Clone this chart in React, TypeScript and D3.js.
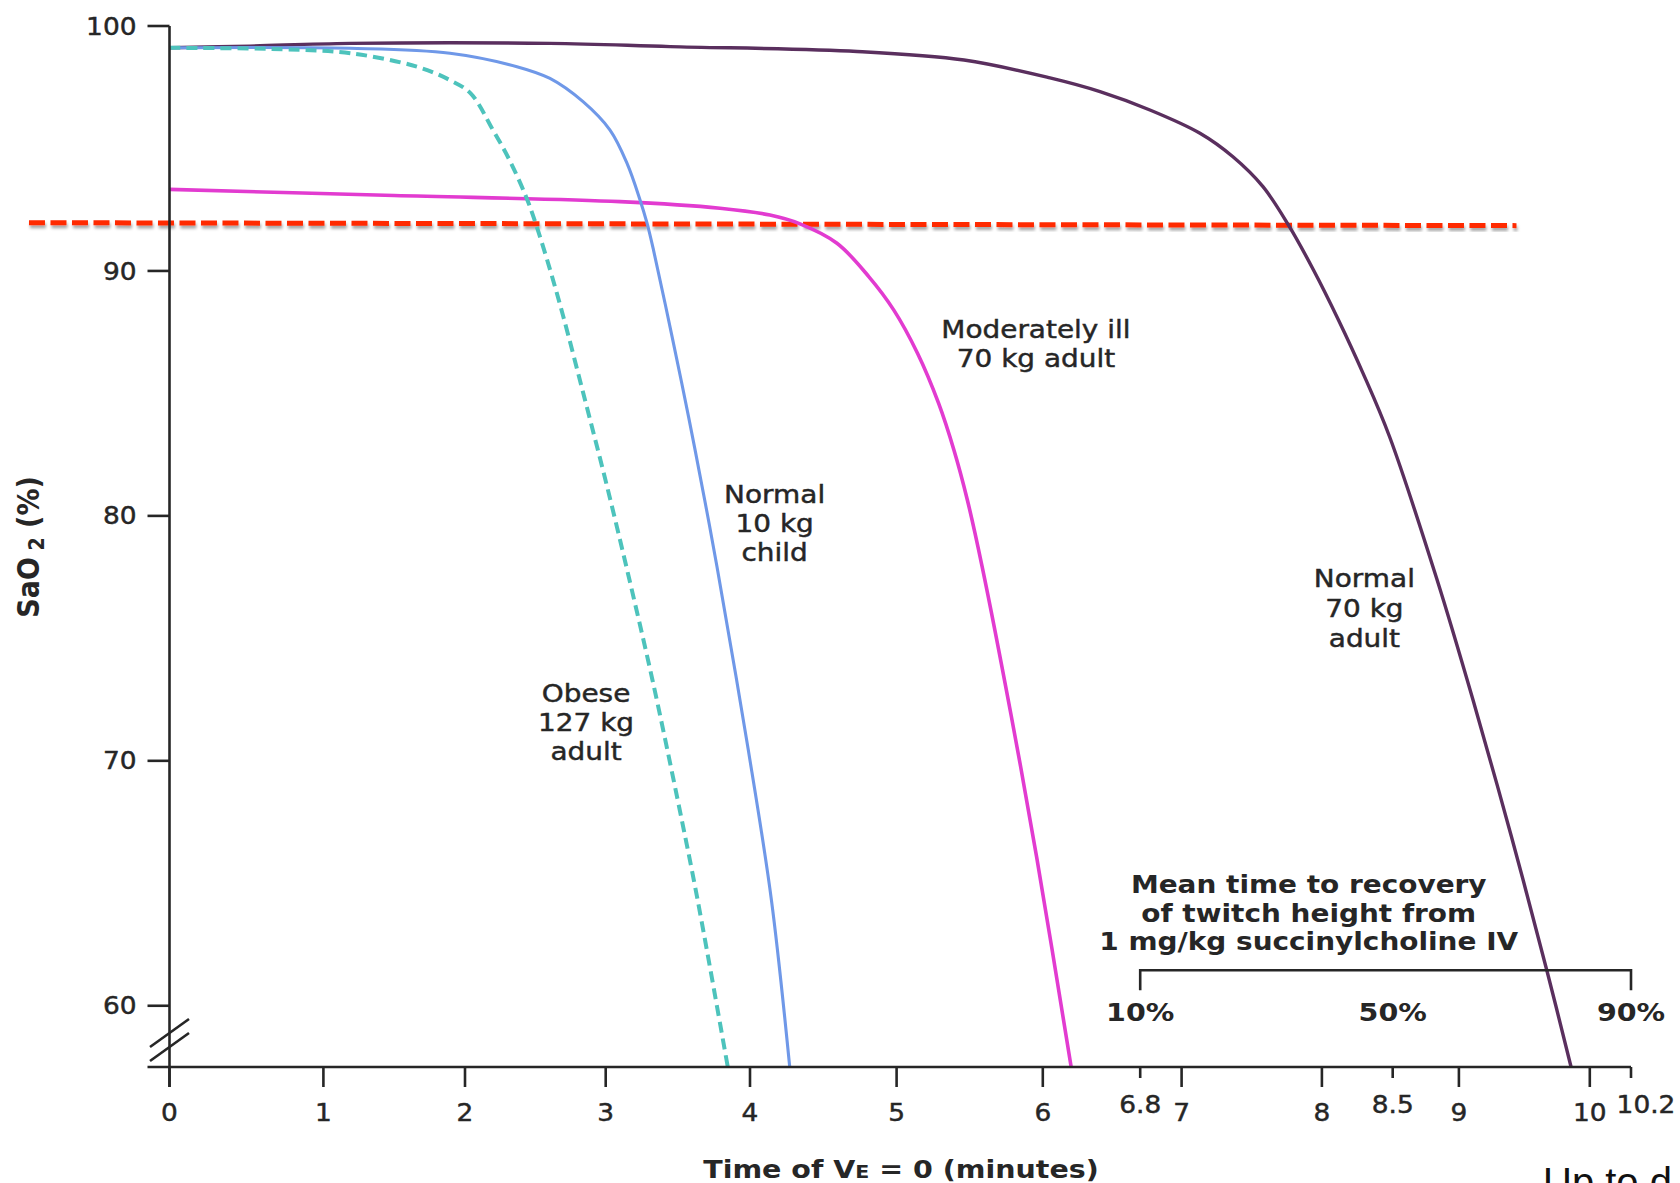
import React from "react";
import * as d3 from "d3";

// ---------- data ----------
// Minutes of apnoea (VE = 0) against arterial saturation (%).
const normalAdultT = [0, 0.52, 1.188, 2.604, 3.446, 4.73, 5.461, 6.059, 6.47, 6.847, 7.131, 7.366, 7.58, 7.761, 7.94, 8.117, 8.29, 8.478, 8.831, 9.108, 9.4, 9.673, 9.857];
const normalAdultSat = [99.11, 99.18, 99.29, 99.29, 99.16, 98.96, 98.61, 97.88, 97.32, 96.57, 95.62, 94.66, 93.44, 91.88, 90.04, 88.0, 85.83, 83.23, 77.46, 72.48, 66.93, 61.42, 57.5];

const illAdultT = [0, 1.499, 3.099, 3.792, 4.136, 4.341, 4.593, 4.81, 4.98, 5.143, 5.287, 5.392, 5.484, 5.585, 5.783, 5.958, 6.233];
const illAdultSat = [93.33, 93.08, 92.83, 92.56, 92.28, 91.92, 91.13, 89.77, 88.41, 86.64, 84.6, 82.69, 80.65, 77.93, 71.87, 66.07, 57.5];

const childT = [0, 1.188, 1.894, 2.369, 2.604, 2.839, 3.03, 3.148, 3.238, 3.286, 3.331, 3.46, 3.574, 3.686, 3.771, 3.988, 4.146, 4.271];
const childSat = [99.11, 99.09, 98.89, 98.34, 97.86, 96.91, 95.75, 94.39, 92.9, 91.96, 90.86, 87.32, 84.05, 80.65, 77.93, 70.45, 64.32, 57.5];

const obeseT = [0, 0.735, 1.19, 1.66, 1.89, 2.04, 2.199, 2.316, 2.434, 2.502, 2.605, 2.699, 2.853, 3.007, 3.165, 3.324, 3.499, 3.637, 3.846];
const obeseSat = [99.11, 99.05, 98.89, 98.34, 97.8, 97.25, 95.75, 94.53, 93.03, 91.95, 90.04, 88.13, 84.73, 81.26, 77.38, 73.3, 68.4, 64.32, 57.5];

// Desaturation threshold (dashed red)
const thresholdT = [-0.913, 9.44];
const thresholdSat = [91.97, 91.85];

// Axis ticks
const majorTicks = [0, 1, 2, 3, 4, 5, 6, 7, 8, 9, 10];
const minorTicks = [6.8, 8.5, 10.2];
const minorTickLabels = ["6.8", "8.5", "10.2"];
const satTicks = [60, 70, 80, 90, 100];

// Succinylcholine recovery bracket
const recoveryTimes = [6.8, 8.5, 10.2];
const recoveryLabels = ["10%", "50%", "90%"];
const recoveryNote = ["Mean time to recovery", "of twitch height from", "1 mg/kg succinylcholine IV"];

// Curve captions: text lines with their anchor (minutes, SaO2 of first baseline)
const captionLines = [
  ["Obese", "127 kg", "adult"],
  ["Normal", "10 kg", "child"],
  ["Moderately ill", "70 kg adult"],
  ["Normal", "70 kg", "adult"],
];
const captionT = [2.86, 4.168, 5.953, 8.3];
const captionSat = [72.4, 80.54, 87.26, 77.08];

// ---------- layout ----------
const W = 1680;
const H = 1183;
// The time axis is hand-spaced in this figure, so the scale is piecewise linear.
const timeBreaks = [0, 1, 2, 3, 4, 5, 6, 6.8, 7, 8, 8.5, 9, 10, 10.2];
const timeBreakPx = [169.5, 323.4, 465, 605.7, 750, 896.6, 1042.8, 1140.2, 1181.6, 1321.9, 1392.7, 1458.9, 1589.8, 1631];
const SAT_TOP = 100;
const SAT_AXIS = 57.5;
const FONT = "'DejaVu Sans', Verdana, sans-serif";
const STRETCH = 1.14;
const INK = "#262626";

const seriesStyle = [
  { color: "#5a2f5e", width: 3.4, dash: undefined as string | undefined },
  { color: "#e23bd0", width: 3.6, dash: undefined },
  { color: "#6f98e8", width: 3.1, dash: undefined },
  { color: "#4dc3bc", width: 4, dash: "11 6" },
];

type TextProps = {
  x: number;
  y: number;
  size: number;
  anchor?: "start" | "middle" | "end";
  weight?: string;
  sx?: number;
  fill?: string;
  children: React.ReactNode;
};

function WideText({ x, y, size, anchor = "middle", weight = "normal", sx = STRETCH, fill = INK, children }: TextProps) {
  return (
    <text
      transform={`translate(${x},${y}) scale(${sx},1)`}
      textAnchor={anchor}
      fontFamily={FONT}
      fontSize={size}
      fontWeight={weight}
      fill={fill}
      stroke={weight === "normal" ? fill : "none"}
      strokeWidth={0.45}
    >
      {children}
    </text>
  );
}

export default function App() {
  const x = d3.scaleLinear().domain(timeBreaks).range(timeBreakPx);
  const y = d3.scaleLinear().domain([SAT_TOP, SAT_AXIS]).range([26, 1067]);

  const line = d3
    .line<[number, number]>()
    .x((d) => x(d[0]))
    .y((d) => y(d[1]))
    .curve(d3.curveCatmullRom.alpha(0.5));

  const straight = d3
    .line<[number, number]>()
    .x((d) => x(d[0]))
    .y((d) => y(d[1]));

  const series = [
    { t: normalAdultT, s: normalAdultSat },
    { t: illAdultT, s: illAdultSat },
    { t: childT, s: childSat },
    { t: obeseT, s: obeseSat },
  ].map((d, i) => ({ ...d, ...seriesStyle[i] }));

  const x0 = x(0);
  const yAxis = y(SAT_AXIS);
  const yTop = y(SAT_TOP);
  const bracketY = y(61.45);
  const breakY = y(58.6);

  return (
    <svg
      width={W}
      height={H}
      viewBox={`0 0 ${W} ${H}`}
      style={{ position: "absolute", left: 0, top: 0, background: "#fff" }}
    >
      <defs>
        <filter id="dropShade" x="-5%" y="-200%" width="110%" height="500%">
          <feDropShadow dx="1" dy="3" stdDeviation="1.6" floodColor="#000" floodOpacity="0.35" />
        </filter>
      </defs>
      <rect width={W} height={H} fill="#fff" />

      {/* threshold */}
      <path
        d={straight(d3.zip(thresholdT, thresholdSat) as [number, number][]) || ""}
        fill="none"
        stroke="#ff2a00"
        strokeWidth={5}
        strokeDasharray="16 5.5"
        filter="url(#dropShade)"
      />

      {/* saturation curves */}
      {series.map((d, i) => (
        <path
          key={i}
          d={line(d3.zip(d.t, d.s) as [number, number][]) || ""}
          fill="none"
          stroke={d.color}
          strokeWidth={d.width}
          strokeDasharray={d.dash}
          strokeLinejoin="round"
        />
      ))}

      {/* y axis */}
      <g stroke={INK} strokeWidth={2.6} fill="none">
        <line x1={x0} x2={x0} y1={yTop} y2={yAxis + 20} />
        {satTicks.map((v) => (
          <line key={v} x1={x0 - 22} x2={x0} y1={y(v)} y2={y(v)} />
        ))}
        {/* axis break */}
        <line x1={x0 - 19.5} y1={breakY + 7} x2={x0 + 19.5} y2={breakY - 21} />
        <line x1={x0 - 19.5} y1={breakY + 21} x2={x0 + 19.5} y2={breakY - 7} />
      </g>
      {satTicks.map((v) => (
        <WideText key={v} x={x0 - 33} y={y(v) + 8.6} size={24} anchor="end" sx={1.1}>
          {v}
        </WideText>
      ))}

      {/* x axis */}
      <g stroke={INK} strokeWidth={2.6} fill="none">
        <line x1={x0 - 22} x2={x(10.2)} y1={yAxis} y2={yAxis} />
        {majorTicks.map((v) => (
          <line key={v} x1={x(v)} x2={x(v)} y1={yAxis} y2={yAxis + 20} />
        ))}
        {minorTicks.map((v) => (
          <line key={v} x1={x(v)} x2={x(v)} y1={yAxis} y2={yAxis + 11} />
        ))}
      </g>
      {majorTicks.map((v) => (
        <WideText key={v} x={x(v)} y={yAxis + 54} size={24} sx={1.1}>
          {v}
        </WideText>
      ))}
      {minorTicks.map((v, i) => (
        <WideText key={v} x={x(v) + (i === minorTicks.length - 1 ? 15 : 0)} y={yAxis + 46} size={24} sx={1.1}>
          {minorTickLabels[i]}
        </WideText>
      ))}

      {/* axis titles */}
      <text
        transform={`translate(${39},${y(78.73)}) rotate(-90) scale(1,${STRETCH})`}
        textAnchor="middle"
        fontFamily={FONT}
        fontSize={27}
        fontWeight="bold"
        fill={INK}
      >
        SaO
        <tspan fontSize={19} dy={4}>
          {" "}2
        </tspan>
        <tspan dy={-4}> (%)</tspan>
      </text>
      <WideText x={x(5.03)} y={1178} size={25} weight="bold">
        Time of V<tspan fontSize={18}>E</tspan> = 0 (minutes)
      </WideText>

      {/* curve captions */}
      {captionLines.map((lines, i) =>
        lines.map((s, j) => (
          <WideText key={`${i}-${j}`} x={x(captionT[i])} y={y(captionSat[i]) + j * (i === 3 ? 30 : 29)} size={24.5}>
            {s}
          </WideText>
        ))
      )}

      {/* recovery bracket */}
      <g stroke={INK} strokeWidth={2.6} fill="none">
        <path
          d={`M${x(recoveryTimes[0])},${bracketY + 20}V${bracketY}H${x(recoveryTimes[2])}V${bracketY + 20}`}
        />
      </g>
      {recoveryTimes.map((t, i) => (
        <WideText key={t} x={x(t)} y={y(59.36)} size={25} weight="bold">
          {recoveryLabels[i]}
        </WideText>
      ))}
      {recoveryNote.map((s, i) => (
        <WideText key={s} x={x(7.906)} y={y(64.6) + i * 28.7} size={24.5} weight="bold">
          {s}
        </WideText>
      ))}

      {/* slide text running off the corner */}
      <text x={1543} y={1196} fontFamily="'Liberation Sans', Arial, sans-serif" fontSize={40} fill="#111">
        Up to d
      </text>
    </svg>
  );
}
